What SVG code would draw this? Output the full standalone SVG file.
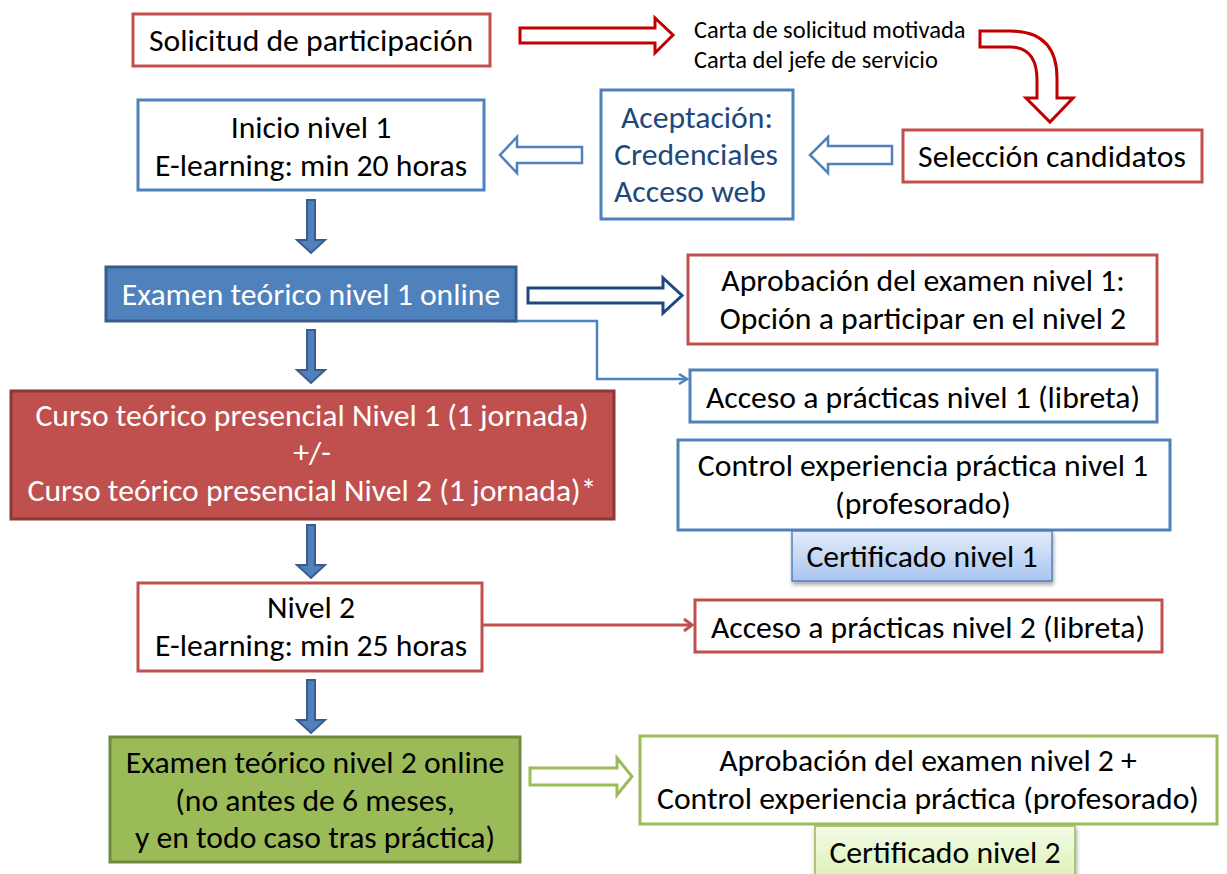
<svg xmlns="http://www.w3.org/2000/svg" width="1227" height="874" viewBox="0 0 1227 874">
<style>
text{font-family:Carlito,Lato,"Liberation Sans",sans-serif;font-size:31.7px;text-anchor:middle;fill:#000}
.sm{font-size:24.5px;text-anchor:start}
.w{fill:#fff}
.db{fill:#1F497D}
.rbox{fill:#fff;stroke:#C0504D;stroke-width:3}
.bbox{fill:#fff;stroke:#4F81BD;stroke-width:3}
.gbox{fill:#fff;stroke:#9BBB59;stroke-width:3}
.down{fill:#4F81BD;stroke:#385D8A;stroke-width:2}
</style>
<defs>
<linearGradient id="gb" x1="0" y1="0" x2="0" y2="1"><stop offset="0" stop-color="#E3ECFA"/><stop offset="1" stop-color="#A9C5F0"/></linearGradient>
<linearGradient id="gg" x1="0" y1="0" x2="0" y2="1"><stop offset="0" stop-color="#F3FBE6"/><stop offset="1" stop-color="#D8F1B0"/></linearGradient>
<filter id="sh" x="-10%" y="-10%" width="130%" height="140%"><feDropShadow dx="1" dy="3" stdDeviation="2" flood-color="#000" flood-opacity="0.35"/></filter>
<marker id="ab" markerWidth="12" markerHeight="12" refX="9" refY="6" orient="auto" markerUnits="userSpaceOnUse"><path d="M1,1 L9,6 L1,11" fill="none" stroke="#4F81BD" stroke-width="2.5"/></marker>
<marker id="ar" markerWidth="12" markerHeight="14" refX="9" refY="7" orient="auto" markerUnits="userSpaceOnUse"><path d="M1,1 L9,7 L1,13" fill="none" stroke="#C0504D" stroke-width="3"/></marker>
</defs>

<g id="connectors">
<path d="M520,28 L655,28 L655,18 L673,35 L655,53 L655,43 L520,43 Z" fill="#fff" stroke="#C00000" stroke-width="3"/>
<path d="M980,31 L1010,31 Q1057,31 1057,78 L1057,98 L1073,98 L1050,122 L1026,98 L1037,98 L1037,80 Q1037,47 1010,47 L980,47 Z" fill="#fff" stroke="#C00000" stroke-width="3"/>
<path d="M892,146 L828,146 L828,137 L810,155 L828,173 L828,164 L892,164 Z" fill="#fff" stroke="#4F81BD" stroke-width="2.5"/>
<path d="M582,147 L517,147 L517,137 L500,155 L517,173 L517,163 L582,163 Z" fill="#fff" stroke="#4F81BD" stroke-width="2.5"/>
<path d="M307,200 L315,200 L315,240 L325,240 L311,253 L297,240 L307,240 Z" class="down"/>
<path d="M307,330 L315,330 L315,370 L325,370 L311,383 L297,370 L307,370 Z" class="down"/>
<path d="M307,525 L315,525 L315,565 L325,565 L311,578 L297,565 L307,565 Z" class="down"/>
<path d="M307,680 L315,680 L315,720 L325,720 L311,733 L297,720 L307,720 Z" class="down"/>
<path d="M528,288 L663,288 L663,278 L682,295.5 L663,313 L663,303 L528,303 Z" fill="#fff" stroke="#1F497D" stroke-width="3"/>
<path d="M502,321 L597,321 L597,379 L687,379" fill="none" stroke="#4F81BD" stroke-width="2.5" marker-end="url(#ab)"/>
<path d="M482,625 L692,625" fill="none" stroke="#C0504D" stroke-width="3" marker-end="url(#ar)"/>
<path d="M530,768 L617,768 L617,758 L632,776.5 L617,795 L617,785 L530,785 Z" fill="#fff" stroke="#9BBB59" stroke-width="3"/>
</g>

<g id="solicitud"><rect x="133" y="14" width="357" height="52" class="rbox"/><text x="311" y="51">Solicitud de participación</text></g>
<g id="cartas"><text class="sm" x="694" y="38">Carta de solicitud motivada</text><text class="sm" x="694" y="68">Carta del jefe de servicio</text></g>
<g id="seleccion"><rect x="903" y="130" width="299" height="52" class="rbox"/><text x="1052" y="167">Selección candidatos</text></g>
<g id="aceptacion"><rect x="601" y="90" width="192" height="129" class="bbox"/><text class="db" x="697" y="128">Aceptación:</text><text class="db" x="696" y="165">Credenciales</text><text class="db" x="614" y="202" style="text-anchor:start">Acceso web</text></g>
<g id="inicio"><rect x="138" y="100" width="346" height="90" class="bbox"/><text x="311" y="138">Inicio nivel 1</text><text x="311" y="176">E-learning: min 20 horas</text></g>
<g id="examen1"><rect x="106" y="267" width="410" height="54" fill="#4F81BD" stroke="#385D8A" stroke-width="3"/><text class="w" x="311" y="305">Examen teórico nivel 1 online</text></g>
<g id="aprobacion1"><rect x="688" y="255" width="469" height="89" class="rbox"/><text x="923" y="291">Aprobación del examen nivel 1:</text><text x="923" y="329">Opción a participar en el nivel 2</text></g>
<g id="practicas1"><rect x="690" y="370" width="467" height="52" class="bbox"/><text x="923" y="408">Acceso a prácticas nivel 1 (libreta)</text></g>
<g id="curso"><rect x="11" y="391" width="603" height="128" fill="#C0504D" stroke="#8C3836" stroke-width="3"/><text class="w" x="312" y="426">Curso teórico presencial Nivel 1 (1 jornada)</text><text class="w" x="312" y="463">+/-</text><text class="w" x="312" y="501">Curso teórico presencial Nivel 2 (1 jornada)*</text></g>
<g id="control1"><rect x="678" y="440" width="492" height="90" class="bbox"/><text x="923" y="476">Control experiencia práctica nivel 1</text><text x="923" y="514">(profesorado)</text></g>
<g id="cert1"><rect x="792" y="531" width="260" height="50" fill="url(#gb)" stroke="#4F81BD" stroke-width="1.5" filter="url(#sh)"/><text x="922" y="567">Certificado nivel 1</text></g>
<g id="nivel2"><rect x="138" y="583" width="344" height="88" class="rbox"/><text x="311" y="618">Nivel 2</text><text x="311" y="656">E-learning: min 25 horas</text></g>
<g id="practicas2"><rect x="695" y="600" width="467" height="52" class="rbox"/><text x="928" y="638">Acceso a prácticas nivel 2 (libreta)</text></g>
<g id="examen2"><rect x="110" y="737" width="410" height="125" fill="#9BBB59" stroke="#71893F" stroke-width="3"/><text x="315" y="773">Examen teórico nivel 2 online</text><text x="315" y="811">(no antes de 6 meses,</text><text x="315" y="848">y en todo caso tras práctica)</text></g>
<g id="aprobacion2"><rect x="640" y="736" width="577" height="88" class="gbox"/><text x="928" y="771">Aprobación del examen nivel 2 +</text><text x="928" y="809">Control experiencia práctica (profesorado)</text></g>
<g id="cert2"><rect x="815" y="826" width="260" height="60" fill="url(#gg)" stroke="#9BBB59" stroke-width="1.5" filter="url(#sh)"/><text x="945" y="863">Certificado nivel 2</text></g>
</svg>
